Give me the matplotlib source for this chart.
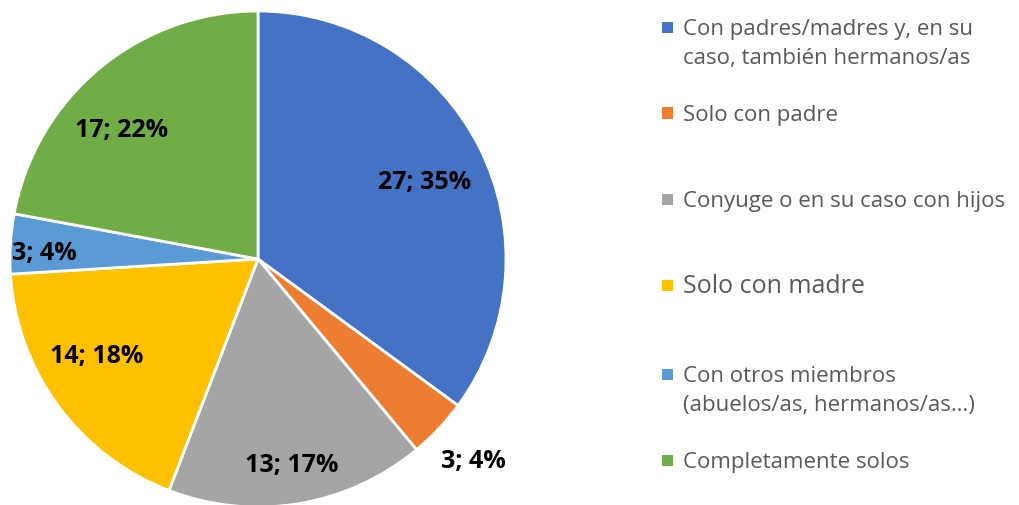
import numpy as np
import matplotlib.pyplot as plt
from matplotlib.patches import Rectangle

# data
categories = [
    "Con padres/madres y, en su\ncaso, también hermanos/as",
    "Solo con padre",
    "Conyuge o en su caso con hijos",
    "Solo con madre",
    "Con otros miembros\n(abuelos/as, hermanos/as…)",
    "Completamente solos",
]
counts = [27, 3, 13, 14, 3, 17]
colors = ["#4472C4", "#ED7D31", "#A5A5A5", "#FFC000", "#5B9BD5", "#70AD47"]

# label radial distance / angle shift for each slice (style)
label_r = [0.74, 1.19, 0.845, 0.76, 0.86, 0.755]
label_da = [-2.4, 0, 0, -5, 2, 7]
# legend layout (style): first-line baseline in px from top, font size
legend_base = [35, 121, 207, 293, 382, 468]
legend_fs = [16, 16, 16, 18, 16, 16]
line_gap = 29

plt.rcParams['font.family'] = ['Open Sans', 'DejaVu Sans']

fig = plt.figure(figsize=(10.2, 5.05), dpi=100)
W, H = 1020, 505
cx, cy, R = 258, 259, 248
ax = fig.add_axes([(cx - R) / W, (H - cy - R) / H, 2 * R / W, 2 * R / H])

wedges, _ = ax.pie(counts, colors=colors, startangle=90, counterclock=False,
                   radius=1, wedgeprops=dict(edgecolor='white', linewidth=2))
ax.set_xlim(-1, 1)
ax.set_ylim(-1, 1)
ax.set_aspect('auto')
ax.axis('off')

total = sum(counts)
for w, n, r, da in zip(wedges, counts, label_r, label_da):
    ang = np.deg2rad((w.theta1 + w.theta2) / 2 + da)
    pct = round(100 * n / total)
    ax.text(r * np.cos(ang), r * np.sin(ang), f"{n}; {pct}%", ha='center', va='center',
            fontsize=18, fontweight='bold', color='black')

# legend
for lab, col, b, fs in zip(categories, colors, legend_base, legend_fs):
    sq = b - 8
    fig.patches.append(Rectangle((662 / W, 1 - (sq + 5.5) / H), 11 / W, 11 / H,
                                 transform=fig.transFigure, facecolor=col, edgecolor='none'))
    for i, line in enumerate(lab.split("\n")):
        fig.text(683 / W, 1 - (b + i * line_gap) / H, line, ha='left', va='baseline',
                 fontsize=fs, color='#595959')

fig.savefig('out.png', dpi=100)
